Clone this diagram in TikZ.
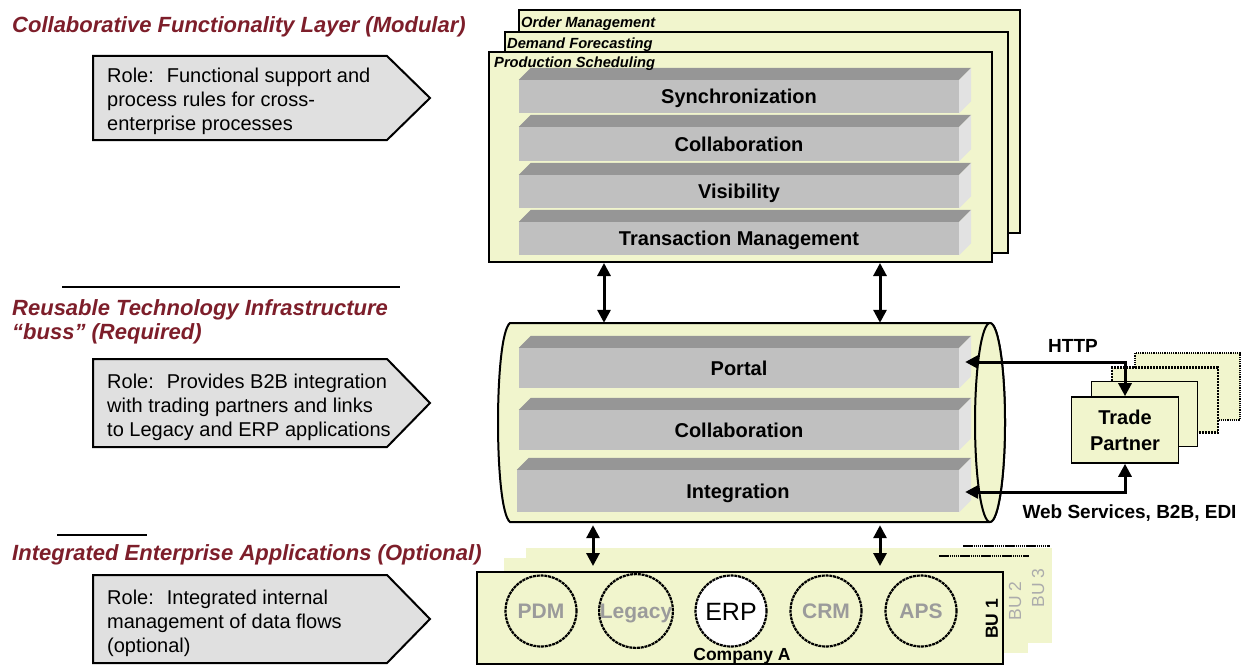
\documentclass[tikz,border=0pt]{standalone}
\usepackage{fontspec}
\setmainfont{Liberation Sans}
\usetikzlibrary{arrows.meta,calc}
\definecolor{ylw}{RGB}{241,245,205}
\definecolor{ttl}{RGB}{125,30,42}
\definecolor{pent}{RGB}{224,224,224}
\definecolor{barF}{RGB}{192,192,192}
\definecolor{barT}{RGB}{150,150,150}
\definecolor{barS}{RGB}{226,226,226}
\definecolor{appgray}{RGB}{155,155,155}
\definecolor{bugray}{RGB}{172,172,172}
\newcommand\barfaces[1]{%
  \fill[barT] (#1.north west) -- ++(12pt,12pt) -- ([shift={(12pt,12pt)}]#1.north east) -- (#1.north east) -- cycle;
  \fill[barS] (#1.north east) -- ++(12pt,12pt) -- ([shift={(12pt,12pt)}]#1.south east) -- (#1.south east) -- cycle;}
\tikzset{
  frame/.style={draw, fill=ylw, line width=2pt, inner sep=0},
  framelabel/.style={anchor=west, inner sep=0, font=\fontsize{14.7}{16}\selectfont\bfseries\itshape},
  bar/.style={fill=barF, minimum width=440pt, inner sep=0, text height=14.4pt, text depth=0pt,
    font=\fontsize{20}{24}\selectfont\bfseries},
  title/.style={anchor=west, inner sep=0, align=left, text=ttl, font=\fontsize{22}{24}\selectfont\bfseries\itshape},
  roletext/.style={anchor=west, inner sep=0, align=left, font=\fontsize{20}{24}\selectfont},
  pentline/.style={draw, fill=pent, line width=2pt, line join=miter},
  dbl/.style={{Triangle[length=13pt,width=13pt]}-{Triangle[length=13pt,width=13pt]}, line width=3pt},
  app/.style={circle, draw, line width=2.2pt, dash pattern=on 3pt off 0.8pt, minimum size=71pt, inner sep=0,
    text height=15pt, text depth=0pt, text=appgray, font=\fontsize{21}{24}\selectfont\bfseries},
  tpbox/.style={draw, fill=ylw, line width=1.6pt, minimum width=106pt, minimum height=65pt, inner sep=0},
  bold19/.style={inner sep=0, font=\fontsize{19}{22}\selectfont\bfseries},
  bulabel/.style={inner sep=0, rotate=90, font=\fontsize{17.5}{20}\selectfont}
}
\begin{document}
\begin{tikzpicture}[x=1pt,y=-1pt]
\useasboundingbox (0,0) rectangle (1241,666);

% ---------- left column: titles and role arrows ----------
\node[title] (t1) at (12,27) {Collaborative Functionality Layer (Modular)};
\draw[pentline] (93,56) -- (387,56) -- (430,98) -- (387,140) -- (93,140) -- cycle;
\node[roletext] (r1) at (107,101) {Role:~ Functional support and\\process rules for cross-\\enterprise processes};

\draw[line width=2.5pt] (62,287) -- (400,287);
\node[title] (t2) at (12,322) {Reusable Technology Infrastructure\\“buss” (Required)};
\draw[pentline] (93,359) -- (387,359) -- (430,403) -- (387,447) -- (93,447) -- cycle;
\node[roletext] (r2) at (107,407) {Role:~ Provides B2B integration\\with trading partners and links\\to Legacy and ERP applications};

\draw[line width=2.5pt] (57,535) -- (147,535);
\node[title] (t3) at (12,555) {Integrated Enterprise Applications (Optional)};
\draw[pentline] (93,575) -- (387,575) -- (430,619) -- (387,663) -- (93,663) -- cycle;
\node[roletext] (r3) at (107,623) {Role:~ Integrated internal\\management of data flows\\(optional)};

% ---------- collaborative functionality layer ----------
\node[frame, minimum width=501pt, minimum height=223pt] (om) at (769.5,121.5) {};
\node[framelabel] (oml) at (521,23.5) {Order Management};
\node[frame, minimum width=503pt, minimum height=221pt] (df) at (756.5,142.5) {};
\node[framelabel] (dfl) at (507,45) {Demand Forecasting};
\node[frame, minimum width=503pt, minimum height=210pt] (ps) at (740.5,157) {};

\node[bar, minimum height=33pt] (sync) at (739,96.5) {Synchronization};
\barfaces{sync}
\node[bar, minimum height=34pt] (collab1) at (739,144) {Collaboration};
\barfaces{collab1}
\node[bar, minimum height=33pt] (vis) at (739,191.5) {Visibility};
\barfaces{vis}
\node[bar, minimum height=33pt] (trans) at (739,238.5) {Transaction Management};
\barfaces{trans}
\node[framelabel] (psl) at (494,63.5) {Production Scheduling};

% ---------- bus (cylinder) ----------
\node[inner sep=0, minimum width=508pt, minimum height=199pt] (bus) at (751,422.5) {};
\filldraw[fill=ylw, line width=2pt] (510,323) -- (990,323)
  arc[start angle=90, end angle=-90, x radius=15pt, y radius=99.5pt]
  -- (510,522) .. controls (494,510) and (494,335) .. cycle;
\filldraw[fill=ylw, line width=2pt] (990,422.5) ellipse [x radius=15pt, y radius=99.5pt];

\node[bar, minimum height=40pt] (portal) at (739,368) {Portal};
\barfaces{portal}
\node[bar, minimum height=40pt] (collab2) at (739,430) {Collaboration};
\barfaces{collab2}
\node[bar, minimum height=42pt, minimum width=442pt] (integ) at (738,491) {Integration};
\barfaces{integ}

% ---------- layer connectors ----------
\draw[dbl] (604,0 |- ps.south) -- (604,0 |- bus.north);
\draw[dbl] (880,0 |- ps.south) -- (880,0 |- bus.north);

% ---------- trade partners ----------
\node[tpbox, line width=1.4pt, dash pattern=on 1.2pt off 1pt, minimum width=105pt, minimum height=67pt] (tp4) at (1187.5,386.5) {};
\node[tpbox, line width=2.4pt, dash pattern=on 2pt off 1pt] (tp3) at (1165,400) {};
\node[tpbox] (tp2) at (1144.5,414) {};
\node[tpbox, minimum width=107pt, minimum height=66pt, align=center, font=\fontsize{20}{26}\selectfont\bfseries] (tp) at (1125,430) {Trade\\Partner};

\draw[dbl] ([shift={(6pt,6pt)}]portal.east) -| (tp.north);
\draw[dbl] ([shift={(6pt,-1pt)}]integ.east) -| (tp.south);
\node[bold19] (http) at (1073,346) {HTTP};
\node[bold19] (ws) at (1129.5,513) {Web Services, B2B, EDI};

% ---------- enterprise applications ----------
\fill[ylw] (526,548) rectangle (1052,643);
\fill[ylw] (504,558) rectangle (1028,653);
\draw[line width=2.4pt, dash pattern=on 1.5pt off 0.6pt] (963,546) -- (1050,546);
\draw[line width=2.4pt, dash pattern=on 1.5pt off 0.6pt] (939,556) -- (1029,556);
\node[frame, minimum width=526pt, minimum height=92pt] (comp) at (740,618) {};

\node[app] (pdm) at (541,611) {PDM};
\node[app] (legacy) at (636,611) {Legacy};
\node[app, fill=white, text=black, text height=18pt, font=\fontsize{25}{28}\selectfont] (erp) at (731,611) {ERP};
\node[app] (crm) at (826,611) {CRM};
\node[app] (aps) at (921,611) {APS};

\node[inner sep=0, font=\fontsize{17.5}{20}\selectfont\bfseries] (compa) at (742,656) {Company A};
\node[bulabel, font=\fontsize{17.5}{20}\selectfont\bfseries] (bu1) at (992,619) {BU 1};
\node[bulabel, text=bugray] (bu2) at (1015,601) {BU 2};
\node[bulabel, text=bugray] (bu3) at (1038,588) {BU 3};

\draw[dbl, shorten <=3pt, shorten >=5pt] (593,0 |- bus.south) -- (593,0 |- comp.north);
\draw[dbl, shorten <=3pt, shorten >=5pt] (880,0 |- bus.south) -- (880,0 |- comp.north);
\end{tikzpicture}
\end{document}
